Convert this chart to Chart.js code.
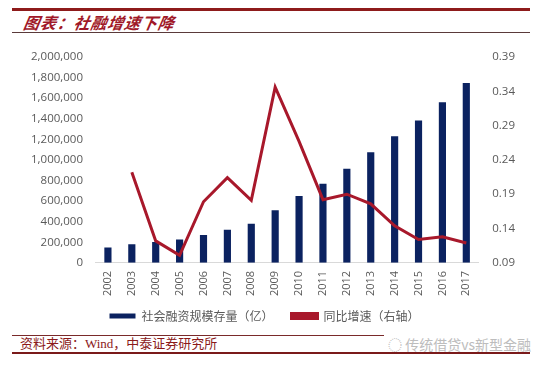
<!DOCTYPE html>
<html>
<head>
<meta charset="utf-8">
<script src="https://cdn.jsdelivr.net/npm/chart.js@4/dist/chart.umd.min.js"></script>
<style>
html,body{margin:0;padding:0;background:#fff;}
#wrap{position:relative;width:550px;height:366px;overflow:hidden;background:#fff;}
.rule{position:absolute;left:12px;width:518px;}
#title{position:absolute;left:22px;top:12px;font-family:"Noto Sans CJK SC";font-weight:bold;font-style:italic;font-size:16px;color:#A01828;letter-spacing:0.8px;line-height:20px;transform:skewX(-10deg);transform-origin:left bottom;white-space:nowrap;}
#src{position:absolute;left:20px;top:336px;font-family:"Liberation Serif","Noto Sans CJK SC";font-size:13px;color:#8B1A1A;line-height:16px;}
#wm{position:absolute;left:384px;top:335px;font-family:"Noto Sans CJK SC";font-size:14px;color:#bdbdbd;line-height:18px;background:#fff;padding-left:4px;}
#cv{position:absolute;left:0;top:36px;}
</style>
</head>
<body>
<div id="wrap">
  <div class="rule" style="top:8px;height:3px;background:#8E1B1B;"></div>
  <div id="title">图表：社融增速下降</div>
  <div class="rule" style="top:32px;height:1px;background:#5a3a3a;"></div>
  <canvas id="cv" width="550" height="296"></canvas>
  <div class="rule" style="top:335px;height:1px;background:#7a2a2a;"></div>
  <div id="src">资料来源：Wind，中泰证券研究所</div>
  <div id="wm">◌ 传统借贷vs新型金融</div>
  <div class="rule" style="top:352px;height:2px;background:#7a1a1a;"></div>
</div>
<script>
const years = ["2002","2003","2004","2005","2006","2007","2008","2009","2010","2011","2012","2013","2014","2015","2016","2017"];
const stock = [148500,181700,203600,227700,269700,321300,379800,511200,649900,767500,914200,1074600,1228600,1382800,1559900,1746400];
const growth = [null,0.222,0.122,0.101,0.179,0.214,0.181,0.346,0.267,0.182,0.190,0.176,0.144,0.124,0.128,0.119];
const leftTicks = [0,200000,400000,600000,800000,1000000,1200000,1400000,1600000,1800000,2000000];
const rightTicks = [0.09,0.14,0.19,0.24,0.29,0.34,0.39];
const seriesNames = ["社会融资规模存量（亿）","同比增速（右轴）"];

const navy = "#0B2260";
const red = "#A8182B";

new Chart(document.getElementById("cv"), {
  data: {
    labels: years,
    datasets: [
      {type:"line", label: seriesNames[1], data: growth, yAxisID:"y1", borderColor: red, backgroundColor: red, borderWidth: 3, pointRadius: 0, tension: 0, order: 0},
      {type:"bar", label: seriesNames[0], data: stock, yAxisID:"y", backgroundColor: navy, borderWidth: 0, barPercentage: 0.3, categoryPercentage: 1, order: 1}
    ]
  },
  options: {
    responsive:false, animation:false,
    layout:{padding:{left:18,right:21,top:3,bottom:0}},
    plugins:{
      legend:{position:"bottom", reverse:true,
        labels:{boxWidth:26, boxHeight:5, color:"#595959", padding:6, font:{family:"Noto Sans CJK SC", size:12},
          generateLabels: chart => {
            const items = Chart.defaults.plugins.legend.labels.generateLabels(chart);
            items.forEach(it => { it.text = it.text + (it.datasetIndex === 1 ? "\u3000\u2002" : "\u3000\u3000"); });
            return items;
          }}},
      tooltip:{enabled:false}
    },
    scales:{
      x:{grid:{display:false, drawTicks:false}, border:{display:true,color:"#d9d9d9"},
         ticks:{color:"#595959", maxRotation:90, minRotation:90, padding:8, font:{family:"Open Sans", size:11}}},
      y:{position:"left", min:0, max:2000000, grid:{display:false, drawTicks:false}, border:{display:false},
         afterBuildTicks: s => { s.ticks = leftTicks.map(v=>({value:v})); },
         ticks:{color:"#595959", padding:13, font:{family:"Open Sans", size:11.5}, callback: v => v.toLocaleString("en-US")}},
      y1:{position:"right", min:0.09, max:0.39, grid:{display:false, drawTicks:false}, border:{display:false},
         afterBuildTicks: s => { s.ticks = rightTicks.map(v=>({value:v})); },
         ticks:{color:"#595959", padding:14, font:{family:"Open Sans", size:11.5}, callback: v => Number(v).toFixed(2)}}
    }
  }
});
</script>
</body>
</html>
